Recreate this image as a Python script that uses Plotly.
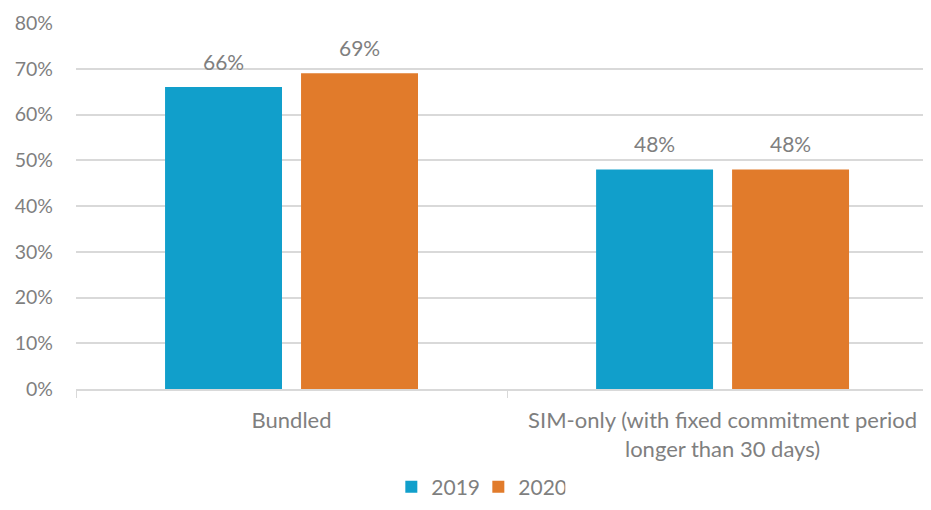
import plotly.graph_objects as go

categories = ["Bundled", "SIM-only (with fixed commitment period<br>longer than 30 days)"]
series_names = ["2019", "2020"]
values_2019 = [0.66, 0.48]
values_2020 = [0.69, 0.48]
labels_2019 = ["66%", "48%"]
labels_2020 = ["69%", "48%"]
y_ticks = [0, 0.1, 0.2, 0.3, 0.4, 0.5, 0.6, 0.7, 0.8]
y_tick_text = ["0%", "10%", "20%", "30%", "40%", "50%", "60%", "70%", "80%"]

FONT = "Lato, 'Open Sans', sans-serif"
GREY = "#7f7f7f"
COLORS = ["#119FCB", "#E17B2B"]

fig = go.Figure()
for name, vals, col in [
    (series_names[0], values_2019, COLORS[0]),
    (series_names[1], values_2020, COLORS[1]),
]:
    fig.add_trace(go.Bar(
        x=categories, y=vals, name=name, marker=dict(color=col, line=dict(width=0)),
    ))

# data labels, placed above each bar
for labs, vals, shift in [(labels_2019, values_2019, -68), (labels_2020, values_2020, 68)]:
    for cat, v, lab in zip(categories, vals, labs):
        fig.add_annotation(x=cat, y=v, text=lab, showarrow=False, xshift=shift,
                           yanchor="bottom", yshift=11,
                           font=dict(family=FONT, size=21, color=GREY))

fig.update_layout(
    width=915, height=494,
    margin=dict(l=68, r=0, t=15, b=113),
    paper_bgcolor="white", plot_bgcolor="white",
    barmode="group", bargap=0.369, bargroupgap=0.14,
    font=dict(family=FONT, size=19, color=GREY),
    showlegend=True,
    legend=dict(orientation="h", x=0.475, xanchor="center",
                yref="container", y=0.03, yanchor="middle",
                font=dict(family=FONT, size=21, color=GREY), itemwidth=30,
                entrywidth=42, entrywidthmode="pixels",
                traceorder="normal"),
)
fig.update_xaxes(
    type="category", range=[-0.5, 1.465], showgrid=False, automargin=False,
    showline=True, linecolor="#d9d9d9", linewidth=1.5,
    ticks="outside", tickson="boundaries", ticklen=7, tickcolor="#d9d9d9",
    ticklabelstandoff=11,
    tickfont=dict(family=FONT, size=22, color=GREY),
)
fig.update_yaxes(
    range=[0, 0.8], tickvals=y_ticks, ticktext=y_tick_text, automargin=False,
    showgrid=True, gridcolor="#d9d9d9", gridwidth=1.5,
    zeroline=False, showline=False, ticks="", ticklabelstandoff=22,
    tickfont=dict(family=FONT, size=19.5, color=GREY),
)
fig.write_html("out.html")
